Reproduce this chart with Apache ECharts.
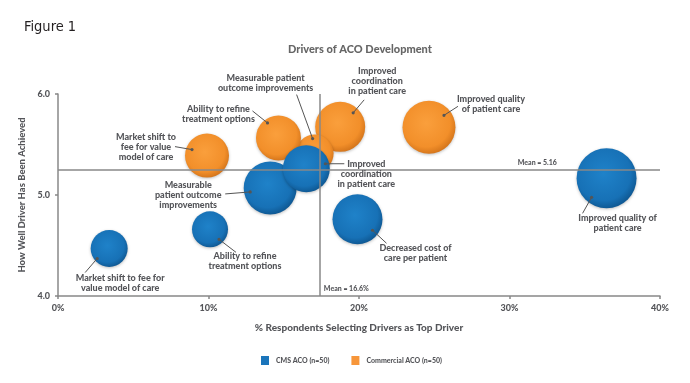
<!DOCTYPE html>
<html>
<head>
<meta charset="utf-8">
<script src="https://cdn.jsdelivr.net/npm/echarts@6/dist/echarts.min.js"></script>
<style>html,body{margin:0;padding:0;background:#fff;}#chart{width:690px;height:383px;}</style>
</head>
<body>
<div id="chart"></div>
<script>
// ---------- data ----------
const xTicks = [0, 10, 20, 30, 40];
const yTicks = [4.0, 5.0, 6.0];

const cmsName = 'CMS ACO (n=50)';
const cmsLabels = [
  'Measurable\npatient outcome\nimprovements',
  'Improved\ncoordination\nin patient care',
  'Market shift to fee for\nvalue model of care',
  'Ability to refine\ntreatment options',
  'Decreased cost of\ncare per patient',
  'Improved quality of\npatient care'
];
const cmsX = [14.1, 16.5, 3.4, 10.1, 19.9, 36.45];
const cmsY = [5.07, 5.26, 4.47, 4.66, 4.76, 5.165];
const cmsSize = [53, 47, 37, 36, 50, 60];

const comName = 'Commercial ACO (n=50)';
const comLabels = [
  'Improved\ncoordination\nin patient care',
  'Measurable patient\noutcome improvements',
  'Ability to refine\ntreatment options',
  'Market shift to\nfee for value\nmodel of care',
  'Improved quality\nof patient care'
];
const comX = [18.75, 17.05, 14.65, 9.9, 24.65];
const comY = [5.675, 5.41, 5.565, 5.39, 5.67];
const comSize = [50, 38, 45, 44, 53];

const meanXDrawn = 17.4, meanYDrawn = 5.25;
const meanXText = 'Mean = 16.6%', meanYText = 'Mean = 5.16';

// ---------- annotation layout (pixel offsets from bubble centre) ----------
const cmsLayout = [
  {dot:[-20,4],  end:[-45,6],  text:[-82,7]},
  {dot:[19,-5],  end:[38,-5],  text:[60,5]},
  {dot:[-12,10], end:[-24,24], text:[11,35]},
  {dot:[9,10],   end:[26,23],  text:[35,32]},
  {dot:[15,11],  end:[29,24],  text:[58,34]},
  {dot:[-15,19], end:[-24,35], text:[11,45]}
];
const comLayout = [
  {dot:[13,-14], end:[24,-27], text:[37,-46]},
  {dot:[-2,-15], end:[-18,-59], text:[-49,-70]},
  {dot:[-11,-15], end:[-26,-27], text:[-60,-24]},
  {dot:[-15,-6], end:[-32,-9], text:[-61,-9]},
  {dot:[15,-12], end:[29,-21], text:[62,-23]}
];

const FONT = 'Lato, "Open Sans", sans-serif';
const TXT = '#55565a';
const WEIGHT = 900;

function bubbles(xs, ys, ss) { return xs.map((x, i) => [x, ys[i], ss[i]]); }
function grad(c0, c1, c2) {
  return new echarts.graphic.RadialGradient(0.45, 0.42, 0.6, [
    {offset: 0, color: c0}, {offset: 0.75, color: c1}, {offset: 1, color: c2}
  ]);
}

const annPts = bubbles(cmsX, cmsY, cmsSize).concat(bubbles(comX, comY, comSize));
const annText = cmsLabels.concat(comLabels);
const annLayout = cmsLayout.concat(comLayout);

const meanPts = [[33.15, meanYDrawn], [meanXDrawn, 4.0]];
const meanTexts = [meanYText, meanXText];
const meanLayout = [{off:[0,-7], align:'right'}, {off:[4,-7], align:'left'}];

const chart = echarts.init(document.getElementById('chart'), null, {renderer: 'canvas'});
chart.setOption({
  animation: false,
  backgroundColor: '#fff',
  title: [
    {text: 'Figure 1', left: 24, top: 20, padding: 0,
     textStyle: {fontFamily: '"Liberation Sans Narrow", "DejaVu Sans Condensed", sans-serif', fontSize: 14.5, fontWeight: 'normal', color: '#231f20'}},
    {text: 'Drivers of ACO Development', left: 288, top: 44, padding: 0,
     textStyle: {fontFamily: FONT, fontSize: 11, fontWeight: WEIGHT, color: '#666'}}
  ],
  legend: {
    left: 256, top: 351, itemWidth: 8, itemHeight: 9, itemGap: 22,
    icon: 'rect',
    data: [{name: cmsName, itemStyle: {color: '#1b75bb'}}, {name: comName, itemStyle: {color: '#f7963a'}}],
    textStyle: {fontFamily: FONT, fontSize: 7, fontWeight: WEIGHT, color: TXT, padding: [0,0,0,2]}
  },
  grid: {left: 58, right: 30, top: 94, bottom: 87},
  xAxis: {
    type: 'value', min: xTicks[0], max: xTicks[xTicks.length-1], interval: 10,
    name: '% Respondents Selecting Drivers as Top Driver', nameLocation: 'middle', nameGap: 27,
    nameTextStyle: {fontFamily: FONT, fontSize: 10, fontWeight: WEIGHT, color: TXT},
    axisLine: {lineStyle: {color: '#888', width: 1.5}},
    axisTick: {show: true, length: 3, lineStyle: {color: '#888', width: 1.5}},
    axisLabel: {formatter: '{value}%', fontFamily: FONT, fontSize: 9, fontWeight: WEIGHT, color: TXT, margin: 8},
    splitLine: {show: false}
  },
  yAxis: {
    type: 'value', min: yTicks[0], max: yTicks[yTicks.length-1], interval: 1,
    name: 'How Well Driver Has Been Achieved', nameLocation: 'middle', nameGap: 31, nameRotate: 90,
    nameTextStyle: {fontFamily: FONT, fontSize: 9.5, fontWeight: WEIGHT, color: TXT},
    axisLine: {show: true, lineStyle: {color: '#888', width: 1.5}},
    axisTick: {show: true, length: 3, lineStyle: {color: '#888', width: 1.5}},
    axisLabel: {formatter: v => v.toFixed(1), fontFamily: FONT, fontSize: 9, fontWeight: WEIGHT, color: TXT, margin: 8},
    splitLine: {show: false}
  },
  series: [
    {
      name: comName, type: 'scatter', z: 2,
      data: bubbles(comX, comY, comSize),
      symbolSize: v => v[2],
      itemStyle: {opacity: 1, color: grad('#fa9f3c', '#f28f2a', '#d2731a'), shadowBlur: 3, shadowColor: 'rgba(0,0,0,0.25)', shadowOffsetY: 1},
      emphasis: {disabled: true}
    },
    {
      name: cmsName, type: 'scatter', z: 3,
      data: bubbles(cmsX, cmsY, cmsSize),
      symbolSize: v => v[2],
      itemStyle: {opacity: 1, color: grad('#1f82c9', '#1771b6', '#0e5690'), shadowBlur: 3, shadowColor: 'rgba(0,0,0,0.25)', shadowOffsetY: 1},
      emphasis: {disabled: true}
    },
    {
      type: 'custom', name: 'means', z: 4, clip: false, silent: true,
      data: meanPts,
      renderItem: (params, api) => {
        const c = api.coord([api.value(0), api.value(1)]);
        const L = meanLayout[params.dataIndex];
        return {type: 'text', style: {text: meanTexts[params.dataIndex], x: c[0] + L.off[0], y: c[1] + L.off[1],
          align: L.align, verticalAlign: 'middle', fontFamily: FONT, fontSize: 7, fontWeight: WEIGHT, fill: TXT}};
      },
      markLine: {
        silent: true, symbol: 'none', animation: false,
        lineStyle: {color: '#888', width: 1.5, type: 'solid'},
        label: {show: false},
        data: [{yAxis: meanYDrawn}, {xAxis: meanXDrawn}]
      }
    },
    {
      type: 'custom', name: 'annotations', z: 5, clip: false, silent: true,
      data: annPts,
      renderItem: (params, api) => {
        const c = api.coord([api.value(0), api.value(1)]);
        const L = annLayout[params.dataIndex];
        const dx = c[0] + L.dot[0], dy = c[1] + L.dot[1];
        return {type: 'group', children: [
          {type: 'line', shape: {x1: dx, y1: dy, x2: c[0] + L.end[0], y2: c[1] + L.end[1]}, style: {stroke: '#555', lineWidth: 1}},
          {type: 'circle', shape: {cx: dx, cy: dy, r: 1.6}, style: {fill: '#555'}},
          {type: 'text', style: {text: annText[params.dataIndex], x: c[0] + L.text[0], y: c[1] + L.text[1],
            align: 'center', verticalAlign: 'middle', fontFamily: FONT, fontSize: 9, fontWeight: WEIGHT, lineHeight: 10, fill: TXT}}
        ]};
      }
    }
  ]
});
</script>
</body>
</html>
